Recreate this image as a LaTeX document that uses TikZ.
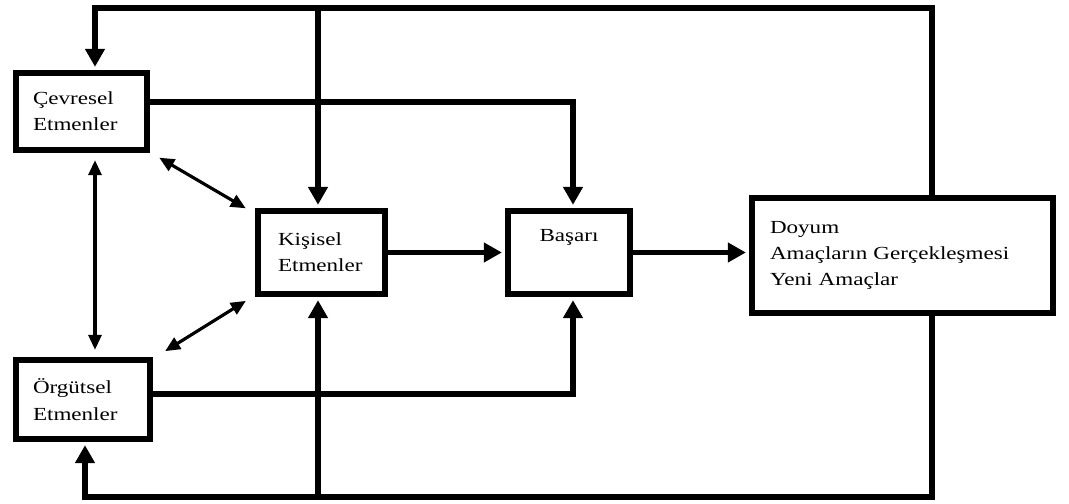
\documentclass[tikz,border=0pt]{standalone}
\usepackage{fontspec}
\setmainfont{Liberation Serif}[FakeStretch=1.25]
\usepackage{tikz}
\usetikzlibrary{arrows.meta,positioning,calc}
\tikzstyle{box}=[draw=black, line width=3.6pt, inner ysep=0pt, align=left, font=\fontsize{10.5}{15}\selectfont]
\tikzstyle{conn}=[line width=3pt, -{Triangle[length=0.36cm, width=0.38cm]}, shorten >=0.06cm]
\tikzstyle{line}=[line width=3pt]
\tikzstyle{both}=[line width=1.8pt, {Triangle[length=0.3cm, width=0.26cm]}-{Triangle[length=0.3cm, width=0.26cm]}, shorten >=0.14cm, shorten <=0.14cm]

\begin{document}
\begin{tikzpicture}
				\useasboundingbox(0,0)rectangle(21.38,-10.08);
				\node[box, inner xsep=0.34cm, text width=1.94cm, minimum height=1.54cm](Cevresel)at(1.63,-2.23){Çevresel\\Etmenler};
				\node[box, inner xsep=0.34cm, text width=2.00cm, minimum height=1.58cm](Orgutsel)at(1.66,-7.99){Örgütsel\\Etmenler};
				\node[box, inner xsep=0.40cm, text width=1.74cm, minimum height=1.66cm](Kisisel)at(6.43,-5.05){Kişisel\\Etmenler};
				\node[box, inner xsep=0pt, align=center, text width=2.44cm, text height=0.62cm, text depth=1.04cm](Basari)at(11.38,-5.05){Başarı};
				\node[box, inner xsep=0.36cm, text width=5.30cm, minimum height=2.30cm](Doyum)at(18.05,-5.11){Doyum\\Amaçların Gerçekleşmesi\\Yeni Amaçlar};
				% feedback loops
				\coordinate(tl)at(1.90,-0.16);
				\coordinate(tk)at(6.36,-0.16);
				\coordinate(tr)at(18.64,-0.16);
				\coordinate(bl)at(1.70,-9.94);
				\coordinate(bk)at(6.36,-9.94);
				\coordinate(br)at(18.64,-9.94);
				\coordinate(cb)at(11.46,-2.04);
				\coordinate(ob)at(11.46,-7.88);
				\draw[conn](Doyum.north -| tr)--(tr)--(tl)--(Cevresel.north -| tl);
				\draw[conn](tk)--(Kisisel.north -| tk);
				\draw[conn](Doyum.south -| br)--(br)--(bl)--(Orgutsel.south -| bl);
				\draw[conn](bk)--(Kisisel.south -| bk);
				\draw[conn](Cevresel.east |- cb)-|(Basari.north -| cb);
				\draw[conn](Orgutsel.east |- ob)-|(Basari.south -| ob);
				\draw[conn, line width=2.4pt](Kisisel.east |- Basari.west)--(Basari.west);
				\draw[conn, line width=2.4pt](Basari.east)--(Doyum.west |- Basari.east);
				% two-way links
				\draw[both](Cevresel.south -| tl)--(Orgutsel.north -| tl);
				\draw[both]([shift={(0.06,-0.02)}]Cevresel.south east)--([shift={(-0.06,-0.08)}]Kisisel.north west);
				\draw[both]([shift={(0.12,0.04)}]Orgutsel.north east)--([shift={(-0.06,0.0)}]Kisisel.south west);
			\end{tikzpicture}
\end{document}
